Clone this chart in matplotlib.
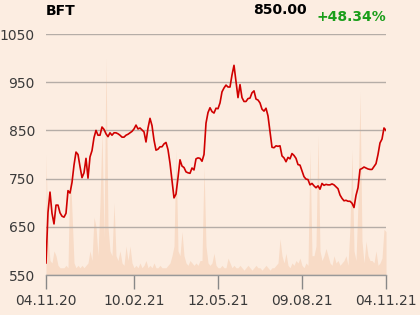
import matplotlib
matplotlib.use("Agg")
import matplotlib.pyplot as plt
import numpy as np

# ---- data ----
prices = [
    575, 680, 722, 678, 656, 695, 695, 679, 672, 670,
    678, 725, 720, 742, 778, 805, 800, 775, 752, 762,
    792, 751, 795, 808, 835, 850, 840, 840, 857, 852,
    843, 837, 845, 840, 845, 845, 843, 840, 836, 836,
    840, 842, 845, 848, 853, 861, 853, 855, 851, 847,
    826, 855, 875, 860, 830, 809, 811, 816, 816, 822,
    825, 810, 782, 745, 710, 718, 752, 789, 776, 773,
    764, 762, 761, 772, 768, 791, 793, 792, 786, 800,
    865, 887, 897, 889, 886, 896, 895, 907, 930, 938,
    944, 940, 940, 965, 985, 952, 918, 945, 918, 910,
    910, 916, 917, 928, 932, 915, 913, 907, 894, 890,
    896, 880, 847, 815, 814, 818, 817, 818, 797, 793,
    785, 794, 791, 802, 798, 792, 779, 778, 766, 754,
    749, 748, 737, 740, 735, 731, 735, 728, 740, 736,
    738, 737, 737, 739, 737, 733, 729, 716, 709, 704,
    705, 703, 703, 699, 690, 715, 731, 769, 771, 774,
    772, 770, 769, 769, 775, 781, 800, 824, 832, 855,
    850,
]

volume = [
    50, 15, 6, 5, 10, 8, 4, 3, 3, 3,
    4, 3, 46, 26, 5, 3, 4, 3, 4, 3,
    4, 5, 10, 6, 24, 20, 8, 30, 60, 15,
    90, 20, 10, 8, 30, 8, 6, 10, 5, 4,
    12, 6, 12, 5, 3, 4, 3, 5, 3, 4,
    6, 3, 4, 3, 5, 3, 3, 4, 3, 3,
    3, 4, 5, 8, 12, 52, 10, 8, 18, 8,
    5, 4, 6, 5, 4, 5, 4, 6, 6, 45,
    12, 5, 4, 5, 9, 4, 3, 3, 4, 3,
    3, 7, 5, 3, 4, 3, 3, 4, 3, 2,
    3, 4, 3, 2, 3, 4, 3, 3, 2, 3,
    4, 3, 2, 3, 3, 4, 5, 15, 8, 5,
    9, 4, 3, 5, 4, 6, 5, 7, 4, 3,
    5, 4, 52, 8, 8, 12, 58, 10, 6, 8,
    11, 8, 5, 4, 8, 5, 6, 4, 5, 6,
    8, 4, 20, 52, 10, 6, 30, 76, 14, 5,
    14, 8, 6, 6, 5, 10, 4, 5, 7, 19,
    18,
]

y_ticks = [550, 650, 750, 850, 950, 1050]
x_tick_labels = ["04.11.20", "10.02.21", "12.05.21", "09.08.21", "04.11.21"]
x_tick_idx = [0, 44, 86, 128, 170]

symbol = "BFT"
last_price = "850.00"
change = "+48.34%"

# ---- style ----
bg = "#fcede1"
vol_color = "#f8dbc6"
line_color = "#d00000"
grid_color = "#b5ada7"
text_color = "#3a3a3a"

W, H = 420, 315
fig = plt.figure(figsize=(W / 100, H / 100), dpi=100, facecolor=bg)
L, R, B, T = 46, 386, 275, 34
ax = fig.add_axes([L / W, 1 - B / H, (R - L) / W, (B - T) / H])
ax.set_facecolor(bg)

x = np.arange(len(prices))

# volume on a twin axis, drawn behind
axv = ax.twinx()
axv.fill_between(x, 0, volume, color=vol_color, lw=0, zorder=1)
axv.set_ylim(0, 100)
axv.set_yticks([])
for s in axv.spines.values():
    s.set_visible(False)
ax.set_zorder(axv.get_zorder() + 1)
ax.patch.set_visible(False)
axv.set_facecolor(bg)

for yv in y_ticks:
    ax.axhline(yv, color=grid_color, lw=1, zorder=0)

ax.plot(x, prices, color=line_color, lw=1.2, zorder=3)

ax.set_xlim(0, len(prices) - 1)
ax.set_ylim(550, 1050)
ax.set_yticks(y_ticks)
ax.set_yticklabels([str(v) for v in y_ticks], fontsize=10, color=text_color)
ax.tick_params(axis="y", length=0, pad=8)
ax.set_xticks(x_tick_idx)
ax.set_xticklabels(x_tick_labels, fontsize=10, color=text_color)
ax.tick_params(axis="x", length=10, width=1, color="#888888", pad=4, direction="out")

for side in ["left", "right", "top"]:
    ax.spines[side].set_visible(False)
ax.spines["bottom"].set_color("#999999")
ax.spines["bottom"].set_linewidth(1)

fig.text(L / W, 1 - 15 / H, symbol, fontsize=10, fontweight="bold", color="black",
         ha="left", va="baseline")
fig.text(307 / W, 1 - 14 / H, last_price, fontsize=10, fontweight="bold", color="black",
         ha="right", va="baseline")
fig.text(386 / W, 1 - 21 / H, change, fontsize=10, fontweight="bold", color="#1a9e1a",
         ha="right", va="baseline")

fig.savefig("out.png", dpi=100, facecolor=bg)
